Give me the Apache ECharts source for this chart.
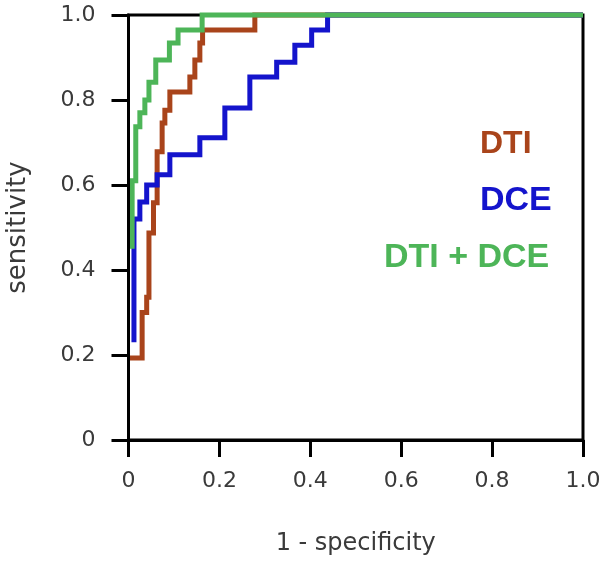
<!DOCTYPE html>
<html>
<head>
<meta charset="utf-8">
<script src="https://cdn.jsdelivr.net/npm/echarts@6/dist/echarts.min.js"></script>
<style>
html,body{margin:0;padding:0;background:#fff;}
#chart{width:602px;height:564px;}
</style>
</head>
<body>
<div id="chart"></div>
<script>
// ROC curve vertices (1 - specificity, sensitivity), from the first visible point
var dtiFpr = [0, 0.03, 0.03, 0.04, 0.04, 0.045, 0.045, 0.055, 0.055, 0.063, 0.063, 0.074, 0.074, 0.08, 0.08, 0.091, 0.091, 0.135, 0.135, 0.146, 0.146, 0.157, 0.157, 0.163, 0.163, 0.278, 0.278, 1];
var dtiTpr = [0.193, 0.193, 0.30, 0.30, 0.336, 0.336, 0.487, 0.487, 0.558, 0.558, 0.678, 0.678, 0.746, 0.746, 0.776, 0.776, 0.819, 0.819, 0.854, 0.854, 0.894, 0.894, 0.934, 0.934, 0.965, 0.965, 1, 1];

var dceFpr = [0.012, 0.012, 0.025, 0.025, 0.04, 0.04, 0.063, 0.063, 0.091, 0.091, 0.157, 0.157, 0.212, 0.212, 0.267, 0.267, 0.326, 0.326, 0.366, 0.366, 0.403, 0.403, 0.438, 0.438, 1];
var dceTpr = [0.23, 0.52, 0.52, 0.56, 0.56, 0.60, 0.60, 0.624, 0.624, 0.671, 0.671, 0.711, 0.711, 0.781, 0.781, 0.854, 0.854, 0.889, 0.889, 0.929, 0.929, 0.965, 0.965, 1, 1];

var bothFpr = [0.008, 0.008, 0.016, 0.016, 0.025, 0.025, 0.036, 0.036, 0.045, 0.045, 0.06, 0.06, 0.09, 0.09, 0.109, 0.109, 0.162, 0.162, 1];
var bothTpr = [0.45, 0.61, 0.61, 0.737, 0.737, 0.77, 0.77, 0.80, 0.80, 0.842, 0.842, 0.894, 0.894, 0.934, 0.934, 0.965, 0.965, 1, 1];

var tickValues = [0, 0.2, 0.4, 0.6, 0.8, 1.0];
var tickLabels = ['0', '0.2', '0.4', '0.6', '0.8', '1.0'];
var seriesNames = ['DTI', 'DCE', 'DTI + DCE'];

function pairs(xs, ys) {
  var out = [];
  for (var i = 0; i < xs.length; i++) out.push([xs[i], ys[i]]);
  return out;
}
function fmt(v) {
  for (var i = 0; i < tickValues.length; i++) {
    if (Math.abs(v - tickValues[i]) < 1e-6) return tickLabels[i];
  }
  return '';
}

var AXFONT = '"DejaVu Sans", Verdana, sans-serif';
var LFONT = '"Liberation Sans", Arial, sans-serif';
var colors = ['#a9441b', '#1414cc', '#4db558'];
var textGray = '#3a3a3a';

function makeAxis(name, gap, margin, nameSize) {
  return {
    type: 'value', min: 0, max: 1, interval: 0.2, z: 8,
    name: name, nameLocation: 'middle', nameGap: gap,
    nameTextStyle: {color: textGray, fontSize: nameSize, fontFamily: AXFONT},
    axisLine: {show: true, onZero: false, lineStyle: {color: '#000', width: 3}},
    axisTick: {show: true, inside: false, length: 17, lineStyle: {color: '#000', width: 3}},
    splitLine: {show: false},
    axisLabel: {show: true, color: textGray, fontSize: 22, fontFamily: AXFONT, margin: margin, formatter: fmt}
  };
}

var chart = echarts.init(document.getElementById('chart'), null, {renderer: 'canvas'});
chart.setOption({
  animation: false,
  backgroundColor: '#fff',
  grid: {left: 128.5, right: 19, top: 15, bottom: 124, show: true, containLabel: false, outerBoundsMode: 'none',
         borderColor: '#000', borderWidth: 3, backgroundColor: 'transparent'},
  xAxis: makeAxis('1 - specificity', 92, 30, 24),
  yAxis: makeAxis('sensitivity', 97, 33, 26),
  series: [
    {name: seriesNames[0], type: 'line', data: pairs(dtiFpr, dtiTpr), showSymbol: false, clip: false,
     lineStyle: {color: colors[0], width: 5, join: 'miter'}, z: 3},
    {name: seriesNames[1], type: 'line', data: pairs(dceFpr, dceTpr), showSymbol: false, clip: false,
     lineStyle: {color: colors[1], width: 5, join: 'miter'}, z: 4},
    {name: seriesNames[2], type: 'line', data: pairs(bothFpr, bothTpr), showSymbol: false, clip: false,
     lineStyle: {color: colors[2], width: 5, join: 'miter'}, z: 5}
  ],
  graphic: [
    {type: 'text', x: 480, y: 144, style: {text: seriesNames[0], fill: colors[0], font: 'bold 32px ' + LFONT, verticalAlign: 'middle'}},
    {type: 'text', x: 480, y: 201, style: {text: seriesNames[1], fill: colors[1], font: 'bold 34px ' + LFONT, verticalAlign: 'middle'}},
    {type: 'text', x: 384, y: 258, style: {text: seriesNames[2], fill: colors[2], font: 'bold 34px ' + LFONT, verticalAlign: 'middle'}}
  ]
});
</script>
</body>
</html>
